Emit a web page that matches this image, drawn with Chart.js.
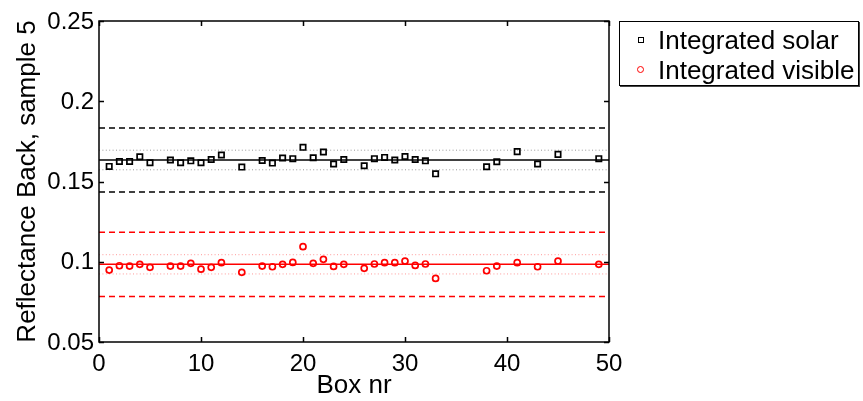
<!DOCTYPE html>
<html>
<head>
<meta charset="utf-8">
<script src="https://cdn.jsdelivr.net/npm/chart.js@4.4.1/dist/chart.umd.min.js"></script>
<style>
  html, body { margin: 0; padding: 0; background: #fff; }
  #wrap { position: relative; width: 863px; height: 401px; }
  #legend {
    position: absolute; left: 619px; top: 21px; width: 238px; height: 63px;
    border: 1px solid #000; box-shadow: 1px 1px 0 #444; background: #fff;
    font-family: "Liberation Sans", Arial, Helvetica, sans-serif; font-size: 26px; color: #000;
  }
  .row { position: absolute; left: 0; height: 30px; line-height: 30px; white-space: nowrap; }
  .row span.lbl { position: absolute; left: 38px; top: 0; }
  .mk { position: absolute; box-sizing: border-box; }
  .sq { left: 18px; top: 12px; width: 6px; height: 6px; border: 1.5px solid #000; }
  .ci { left: 17px; top: 11px; width: 7px; height: 7px; border: 1.5px solid #f00; border-radius: 50%; }
</style>
</head>
<body>
<div id="wrap">
  <canvas id="c" width="863" height="401"></canvas>
  <div id="legend">
    <div class="row" style="top:3px"><div class="mk sq"></div><span class="lbl">Integrated solar</span></div>
    <div class="row" style="top:33px"><div class="mk ci"></div><span class="lbl">Integrated visible</span></div>
  </div>
</div>
<script>
// Measured boxes and their integrated reflectance (back side, sample 5)
const boxes = [1, 2, 3, 4, 5, 7, 8, 9, 10, 11, 12, 14, 16, 17, 18, 19, 20, 21, 22, 23, 24,
               26, 27, 28, 29, 30, 31, 32, 33, 38, 39, 41, 43, 45, 49];
const solar = [0.1594, 0.1625, 0.1625, 0.1654, 0.1617, 0.1634, 0.1617, 0.1629, 0.1617, 0.1637,
               0.1665, 0.1590, 0.1631, 0.1615, 0.1646, 0.1642, 0.1713, 0.1648, 0.1684, 0.1609,
               0.1637, 0.1598, 0.1642, 0.1650, 0.1634, 0.1656, 0.1637, 0.1629, 0.1548, 0.1592,
               0.1623, 0.1686, 0.1609, 0.1669, 0.1642];
const visible = [0.0948, 0.0975, 0.0973, 0.0984, 0.0965, 0.0973, 0.0973, 0.0990, 0.0954, 0.0965,
                 0.0994, 0.0934, 0.0973, 0.0969, 0.0984, 0.0996, 0.1094, 0.0990, 0.1015, 0.0971,
                 0.0984, 0.0959, 0.0986, 0.0994, 0.0994, 0.1004, 0.0977, 0.0986, 0.0896, 0.0944,
                 0.0973, 0.0994, 0.0969, 0.1004, 0.0984];

// Reference levels: mean, spread band and tolerance band
const solarMean = 0.1634, solarSpread = 0.0061;
const visibleMean = 0.0984, visibleSpread = 0.0060;
const tolerance = 0.02;

const xRange = [0, 50];
const yTicks = [0.05, 0.1, 0.15, 0.2, 0.25];
const xTicks = [0, 10, 20, 30, 40, 50];

const FONT = '"Liberation Sans", Arial, Helvetica, sans-serif';

function hline(value, color, dash, width) {
  return {
    type: 'line', showLine: true, pointRadius: 0, borderColor: color, borderWidth: width,
    borderDash: dash, data: xRange.map(x => ({ x, y: value })), fill: false
  };
}

const pts = (vals) => boxes.map((b, i) => ({ x: b, y: vals[i] }));

const datasets = [
  { label: 'Integrated solar', data: pts(solar), showLine: false, pointStyle: 'rect',
    pointRadius: 3.8, borderColor: '#000', backgroundColor: 'rgba(0,0,0,0)', pointBorderWidth: 1.7 },
  { label: 'Integrated visible', data: pts(visible), showLine: false, pointStyle: 'circle',
    pointRadius: 3, borderColor: '#f00', backgroundColor: 'rgba(0,0,0,0)', pointBorderWidth: 1.7 },
  hline(solarMean, '#000', [], 1.5),
  hline(solarMean + solarSpread, '#999', [1, 2.4], 1),
  hline(solarMean - solarSpread, '#999', [1, 2.4], 1),
  hline(solarMean + tolerance, '#000', [6, 4], 1.5),
  hline(solarMean - tolerance, '#000', [6, 4], 1.5),
  hline(visibleMean, '#f00', [], 1.5),
  hline(visibleMean + visibleSpread, '#f99', [1, 2.4], 1),
  hline(visibleMean - visibleSpread, '#f99', [1, 2.4], 1),
  hline(visibleMean + tolerance, '#f00', [6, 4], 1.5),
  hline(visibleMean - tolerance, '#f00', [6, 4], 1.5)
];

// Box frame with inward-pointing tick marks on all four sides
const framePlugin = {
  id: 'frame',
  afterDraw(chart) {
    const { ctx, chartArea: a, scales: { x, y } } = chart;
    ctx.save();
    ctx.strokeStyle = '#000';
    ctx.lineWidth = 1.5;
    ctx.setLineDash([]);
    ctx.strokeRect(a.left, a.top, a.right - a.left, a.bottom - a.top);
    ctx.beginPath();
    const len = 5;
    xTicks.forEach(v => {
      const px = Math.round(x.getPixelForValue(v)) + 0.5;
      ctx.moveTo(px, a.bottom); ctx.lineTo(px, a.bottom - len);
      ctx.moveTo(px, a.top); ctx.lineTo(px, a.top + len);
    });
    yTicks.forEach(v => {
      const py = Math.round(y.getPixelForValue(v)) + 0.5;
      ctx.moveTo(a.left, py); ctx.lineTo(a.left + len, py);
      ctx.moveTo(a.right, py); ctx.lineTo(a.right - len, py);
    });
    ctx.stroke();
    ctx.restore();
  }
};

new Chart(document.getElementById('c'), {
  type: 'scatter',
  data: { datasets },
  plugins: [framePlugin],
  options: {
    responsive: false,
    animation: false,
    devicePixelRatio: 1,
    layout: { padding: { left: 0, right: 254, top: 21, bottom: 0 } },
    plugins: { legend: { display: false }, tooltip: { enabled: false } },
    scales: {
      x: {
        type: 'linear', min: xRange[0], max: xRange[1],
        afterBuildTicks: s => { s.ticks = xTicks.map(v => ({ value: v })); },
        afterFit: s => { s.height = 59; },
        grid: { display: false, drawTicks: false },
        border: { display: false },
        ticks: { color: '#000', padding: 8, maxRotation: 0, font: { family: FONT, size: 24 } },
        title: { display: true, text: 'Box nr', color: '#000', padding: { top: 0, bottom: 0 },
                 font: { family: FONT, size: 26, lineHeight: 1.2 } }
      },
      y: {
        type: 'linear', min: 0.05, max: 0.25,
        afterBuildTicks: s => { s.ticks = yTicks.map(v => ({ value: v })); },
        afterFit: s => { s.width = 99; },
        grid: { display: false, drawTicks: false },
        border: { display: false },
        ticks: { color: '#000', padding: 5, labelOffset: 1, font: { family: FONT, size: 24 },
                 callback: v => String(Number(v.toFixed(2))) },
        title: { display: true, text: 'Reflectance Back, sample 5', color: '#000',
                 padding: { top: 12, bottom: 0 }, font: { family: FONT, size: 26, lineHeight: 1.2 } }
      }
    }
  }
});
</script>
</body>
</html>
